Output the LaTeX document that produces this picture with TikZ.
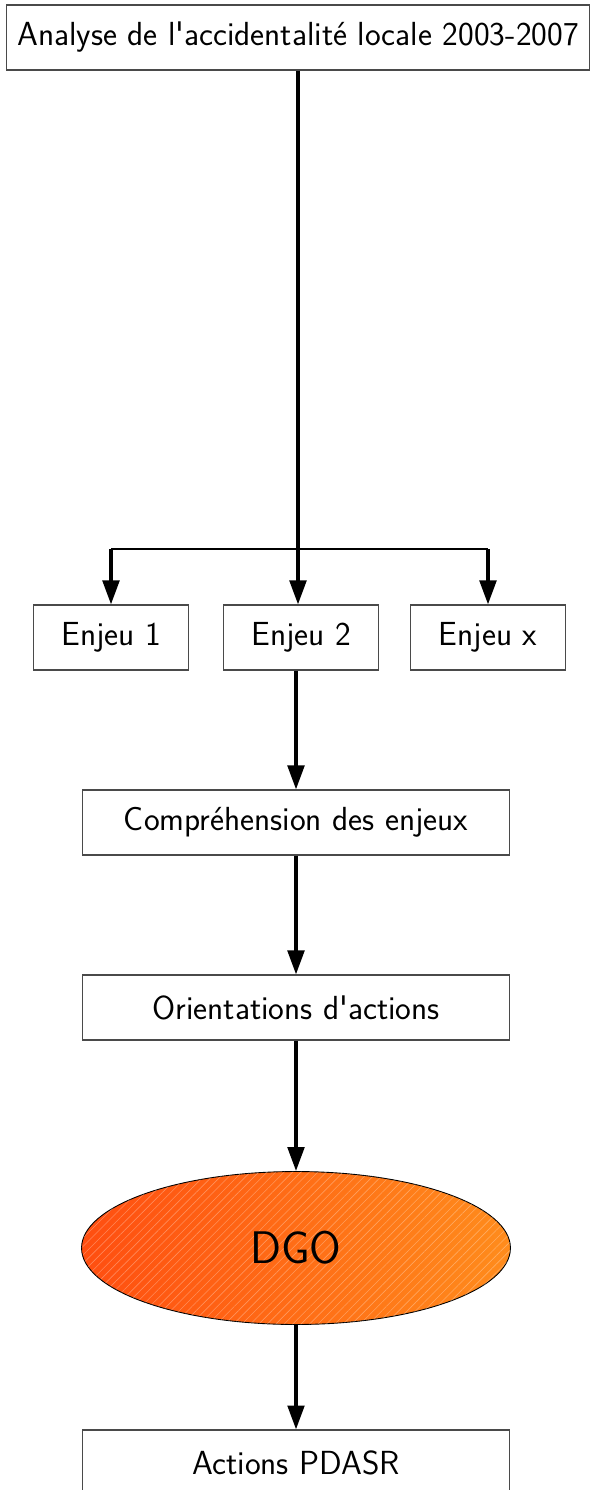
\documentclass[tikz,border=0pt]{standalone}
\usetikzlibrary{positioning, arrows.meta, shapes.geometric, patterns.meta}
\definecolor{ink}{HTML}{000000}
\definecolor{frame}{HTML}{4A4A4A}
\definecolor{dgoleft}{HTML}{FF4E10}
\definecolor{dgoright}{HTML}{FF8C1C}
\tikzset{
  every node/.style = {font=\sffamily\fontsize{19}{23}\selectfont, text=ink},
  flbox/.style   = {draw=frame, line width=0.6pt, fill=white, align=center, inner sep=0pt,
                    minimum height=13mm},
  flwide/.style  = {flbox, minimum width=85.6mm},
  flenjeu/.style = {flbox, minimum width=31mm},
  fldgo/.style   = {ellipse, draw=black, line width=0.5pt, inner sep=0pt,
                    minimum width=85.8mm, minimum height=30.6mm,
                    left color=dgoleft, right color=dgoright,
                    postaction={pattern={Lines[angle=45, distance=3.4pt, line width=0.35pt]},
                                pattern color=white, opacity=0.3},
                    font=\sffamily\fontsize{26}{30}\selectfont},
  flgo/.style    = {-{Triangle[length=4.8mm,width=3.3mm]}, line width=2.1pt},
  flfork/.style  = {line width=0.7pt},
}
\begin{document}
\begin{tikzpicture}[x=0.02cm, y=-0.02cm]
\useasboundingbox (0,0) rectangle (589,1490);

\node[flbox, minimum width=116.6mm] (top) at (298,37.5) {Analyse de l\textquotesingle accidentalité locale 2003-2007};

\node[flenjeu] (e1) at (111,637.5) {Enjeu 1};
\node[flenjeu] (e2) at (301,637.5) {Enjeu 2};
\node[flenjeu] (ex) at (488,637.5) {Enjeu x};

\node[flwide] (comp)   at (296,822.5)  {Compréhension des enjeux};
\node[flwide] (orient) at (296,1007.5) {Orientations d\textquotesingle actions};
\node[fldgo]  (dgo)    at (296,1248)   {DGO};
\node[flwide] (pdasr)  at (296,1462.5) {Actions PDASR};

\coordinate (forkl) at (e1.north |- 0,549);
\coordinate (forkr) at (ex.north |- 0,549);

\draw[flfork] (forkl) -- (forkr);
\draw[flgo] (forkl) -- (e1.north);
\draw[flgo] (forkr) -- (ex.north);
\draw[flgo] (top.south) -- (top.south |- e2.north);
\draw[flgo] (e2.south -| comp.north) -- (comp.north);
\draw[flgo] (comp) -- (orient);
\draw[flgo] (orient) -- (dgo);
\draw[flgo] (dgo) -- (pdasr);
\end{tikzpicture}
\end{document}
